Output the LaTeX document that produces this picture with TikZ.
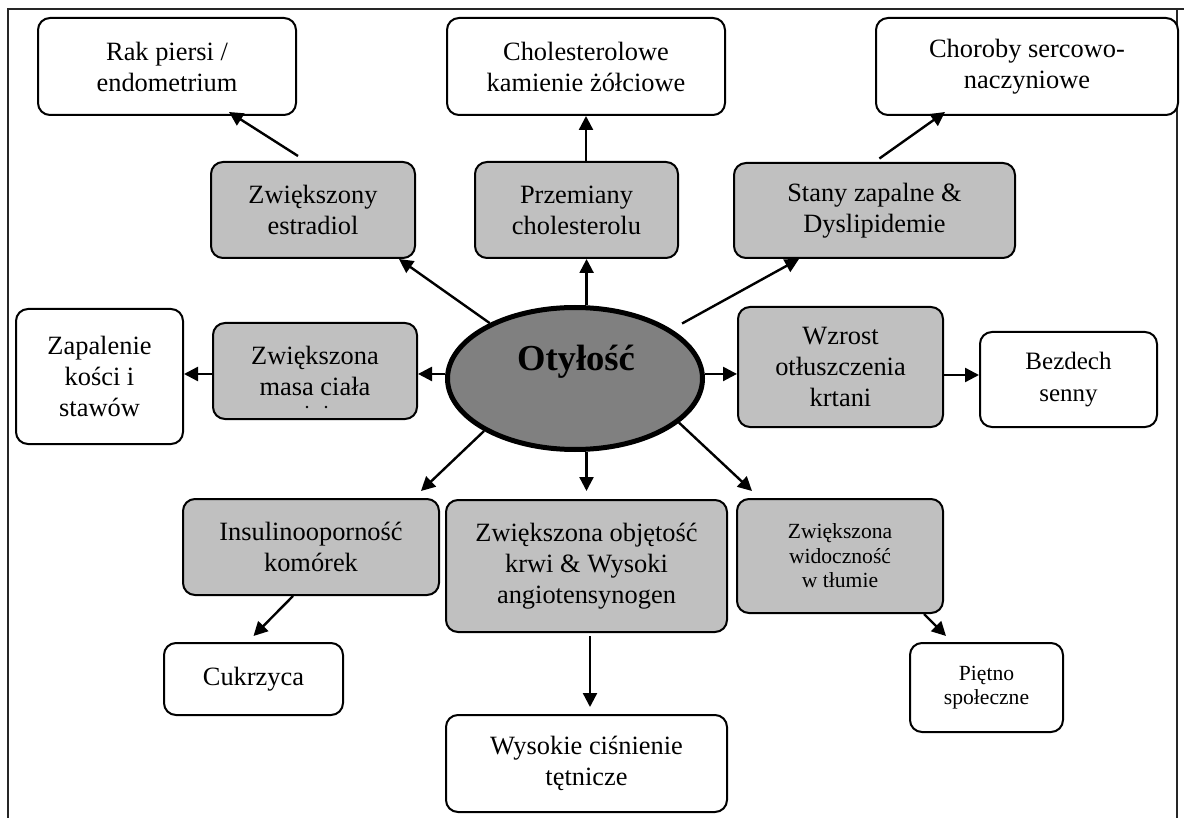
\documentclass[tikz,border=0pt]{standalone}
\usepackage{fontspec}
\setmainfont{Liberation Serif}
\usetikzlibrary{arrows.meta,shapes.geometric}
\definecolor{boxgray}{RGB}{192,192,192}
\definecolor{ovalgray}{RGB}{128,128,128}
\begin{document}
\begin{tikzpicture}[x=0.5pt,y=-0.5pt,
  box/.style={draw, line width=1pt, rounded corners=6pt, align=center,
    inner sep=0pt, font=\fontsize{13.2}{15.5}\selectfont},
  wbox/.style={box, fill=white},
  gbox/.style={box, fill=boxgray},
  smalltext/.style={font=\fontsize{10.8}{12.25}\selectfont},
  arr/.style={-{Triangle[length=7pt,width=7pt]}, line width=1.2pt},
  frameline/.style={line width=0.9pt, black!85},
]
\useasboundingbox (0,0) rectangle (1184,818);

% page frame
\draw[frameline] (8,818) -- (8,9) -- (1184,9);
\draw[frameline] (1177,9) -- (1177,818);

% top row: outcomes
\node[wbox, minimum width=129pt, minimum height=48.5pt] (rak) at (167,66.5) {Rak piersi /\\endometrium};
\node[wbox, minimum width=139pt, minimum height=48.5pt] (chol) at (586,66.5) {Cholesterolowe\\kamienie żółciowe};
\node[wbox, minimum width=151pt, minimum height=48.5pt] (chor) at (1027,66.5) {Choroby sercowo-\\naczyniowe};

% second row: mechanisms
\node[gbox, minimum width=102pt, minimum height=48pt] (estr) at (313,210) {Zwiększony\\estradiol};
\node[gbox, minimum width=101.5pt, minimum height=48pt] (przem) at (576.5,210) {Przemiany\\cholesterolu};
\node[gbox, minimum width=140.5pt, minimum height=47.5pt] (stany) at (874.5,210.5) {Stany zapalne \&\\Dyslipidemie};

% middle row
\node[wbox, minimum width=83.5pt, minimum height=67.5pt] (zapal) at (99.5,376.5) {Zapalenie\\kości i\\stawów};
\node[gbox, minimum width=102pt, minimum height=48pt] (masa) at (315,371) {Zwiększona\\masa ciała};
\fill (307,407) circle (0.7pt) (326,407) circle (0.7pt);
\node[gbox, minimum width=102.5pt, minimum height=60pt] (wzrost) at (840.5,367) {Wzrost\\otłuszczenia\\krtani};
\node[wbox, minimum width=88.5pt, minimum height=47.5pt, font=\fontsize{12.5}{16}\selectfont] (bezdech) at (1068.5,379.5) {Bezdech\\senny};

% central oval
\node[ellipse, draw, line width=2.5pt, fill=ovalgray, inner sep=0pt,
  minimum width=127.5pt, minimum height=71pt] (ell) at (575,378.5) {};
\node[font=\bfseries\fontsize{18.3}{20}\selectfont, inner sep=0pt] (lbl) at (576,362) {Otyłość};

% lower rows
\node[gbox, minimum width=128pt, minimum height=48pt] (insul) at (311,547) {Insulinooporność\\komórek};
\node[gbox, minimum width=140.5pt, minimum height=66pt] (obj) at (586.5,566) {Zwiększona objętość\\krwi \& Wysoki\\angiotensynogen};
\node[gbox, smalltext, minimum width=103pt, minimum height=57pt] (widocz) at (840,556) {Zwiększona\\widoczność\\w tłumie};
\node[wbox, minimum width=89.5pt, minimum height=36pt] (cukr) at (253.5,679) {Cukrzyca};
\node[wbox, smalltext, minimum width=76.5pt, minimum height=44.5pt] (pietno) at (986.5,687.5) {Piętno\\społeczne};
\node[wbox, minimum width=140.5pt, minimum height=48.5pt] (wys) at (586.5,763.5) {Wysokie ciśnienie\\tętnicze};

% connectors
\draw[arr] (ell.147) -- ([xshift=-8.5pt]estr.south east);
\draw[arr] ([xshift=-7.5pt,yshift=2.5pt]estr.north) -- ([xshift=-34pt,yshift=2pt]rak.south east);
\draw[arr] (ell.81) -- (ell.81 |- przem.south);
\draw[arr] (przem.north -| chol.south) -- (chol.south);
\draw[arr, shorten <=6pt] (ell.27) -- ([xshift=33pt]stany.south west);
\draw[arr, shorten <=3pt] (stany.north) -- ([xshift=35pt,yshift=2pt]chor.south west);
\draw[arr] (ell.178) -- (ell.178 -| masa.east);
\coordinate (m8) at ([yshift=-1.5pt]masa.west);
\draw[arr] (m8) -- (m8 -| zapal.east);
\draw[arr] (ell.2) -- (ell.2 -| wzrost.west);
\coordinate (w10) at ([yshift=-4pt]wzrost.east);
\draw[arr] (w10) -- (w10 -| bezdech.west);
\draw[arr] (ell.210) -- ([xshift=-9.5pt,yshift=3.5pt]insul.north east);
\draw[arr] ([xshift=-9pt]insul.south) -- ([yshift=3pt]cukr.north);
\draw[arr] (ell.south -| obj.north) -- ([yshift=4pt]obj.north);
\draw[arr] (ell.337) -- ([xshift=8pt,yshift=3.5pt]widocz.north west);
\draw[arr] ([xshift=-10pt]widocz.south east) -- ([xshift=18.5pt,yshift=3pt]pietno.north west);
\draw[arr] ([xshift=1.75pt,yshift=-1.5pt]obj.south) -- ([xshift=1.75pt,yshift=3.5pt]wys.north);
\end{tikzpicture}
\end{document}
